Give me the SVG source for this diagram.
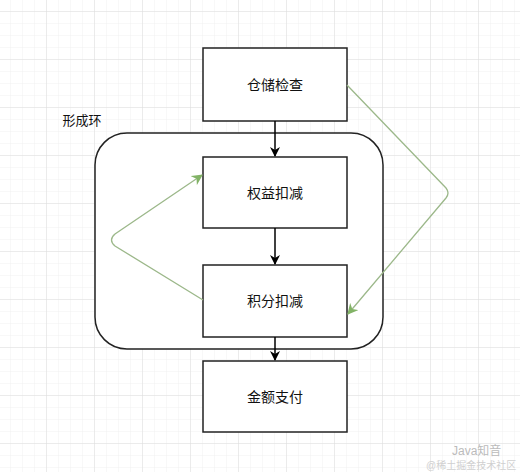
<svg xmlns="http://www.w3.org/2000/svg" width="520" height="472" viewBox="0 0 520 472">
<defs>
<pattern id="minor" width="12" height="12" patternUnits="userSpaceOnUse" x="11" y="0">
<path d="M12 0V12M0 12H12" fill="none" stroke="#f0f0f0" stroke-width="1"/>
</pattern>
<pattern id="major" width="48" height="48" patternUnits="userSpaceOnUse" x="-1" y="12">
<path d="M48 0V48M0 48H48" fill="none" stroke="#dedede" stroke-width="1"/>
</pattern>
<marker id="blk" viewBox="0 0 10 10" refX="9" refY="5" markerWidth="10" markerHeight="10" markerUnits="userSpaceOnUse" orient="auto">
<path d="M0 0L10 5L0 10L3 5Z" fill="#000"/>
</marker>
<marker id="grn" viewBox="0 0 10 10" refX="9" refY="5" markerWidth="11" markerHeight="11" markerUnits="userSpaceOnUse" orient="auto">
<path d="M0 0L10 5L0 10L3 5Z" fill="#82b366"/>
</marker>
</defs>
<style>
.box{fill:#fff;stroke:#222;stroke-width:1.5}
.lbl{font-family:"Liberation Sans","Noto Sans CJK SC",sans-serif;font-size:14px;fill:#111;text-anchor:middle;dominant-baseline:central}
.blk{fill:none;stroke:#000;stroke-width:1.5;marker-end:url(#blk)}
.grn{fill:none;stroke:#9cb88a;stroke-width:1.3;marker-end:url(#grn)}
</style>
<rect width="520" height="472" fill="#fff"/>
<rect width="520" height="472" fill="url(#minor)"/>
<rect width="520" height="472" fill="url(#major)"/>
<g id="loop">
<rect x="95" y="133" width="288" height="216" rx="32" ry="32" fill="#fff" stroke="#222" stroke-width="1.5"/>
<text x="82" y="120" class="lbl" style="font-size:13px">形成环</text>
</g>
<g id="n1"><rect class="box" x="203" y="48" width="144" height="73"/><text class="lbl" x="275" y="84.5">仓储检查</text></g>
<g id="n2"><rect class="box" x="203" y="157" width="144" height="71"/><text class="lbl" x="275" y="192.5">权益扣减</text></g>
<g id="n3"><rect class="box" x="203" y="265" width="144" height="72"/><text class="lbl" x="275" y="301">积分扣减</text></g>
<g id="n4"><rect class="box" x="203" y="361" width="144" height="71"/><text class="lbl" x="275" y="396.5">金额支付</text></g>
<g id="connectors">
<path class="blk" d="M275 121V156"/>
<path class="blk" d="M275 228V264"/>
<path class="blk" d="M275 337V360"/>
<path class="grn" d="M347 85L446 188Q450 193 446 198L348 314"/>
<path class="grn" d="M203 300L115 246Q108 240 115 234L202 175"/>
</g>
<g id="watermark" font-family="Liberation Sans,Noto Sans CJK SC,sans-serif">
<text x="452" y="455" font-size="12" fill="#bbb">Java知音</text>
<text x="426" y="469" font-size="10" fill="#d0d0d0">@稀土掘金技术社区</text>
</g>
</svg>
